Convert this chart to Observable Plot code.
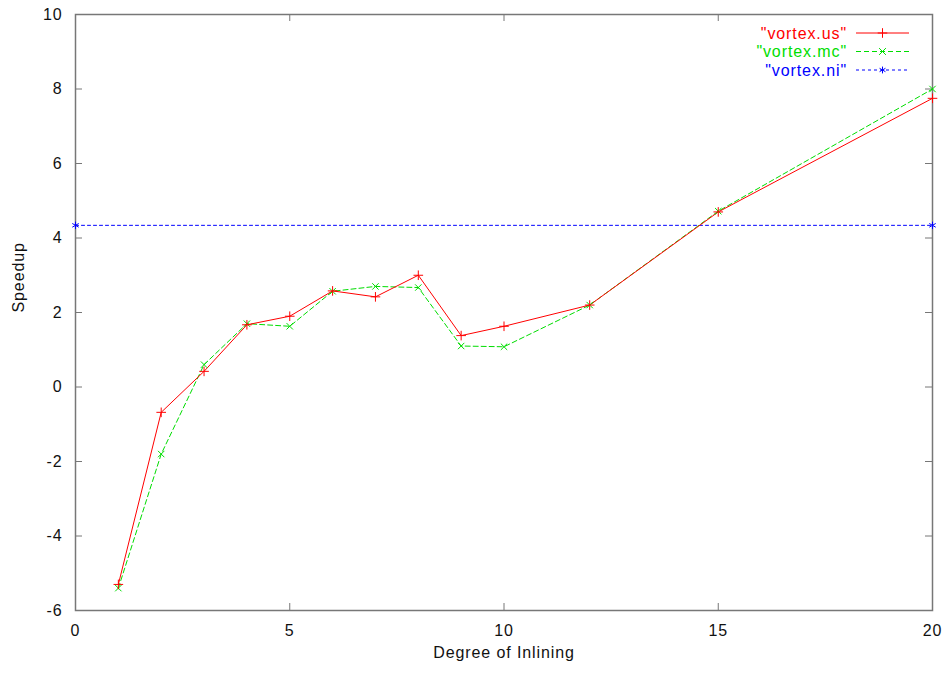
<!DOCTYPE html>
<html>
<head>
<meta charset="utf-8">
<script src="https://cdn.jsdelivr.net/npm/d3@7"></script>
<script src="https://cdn.jsdelivr.net/npm/@observablehq/plot@0.6"></script>
<style>
  html, body { margin: 0; padding: 0; background: white; }
  svg text { letter-spacing: 0.9px; }
</style>
</head>
<body>
<div id="chart"></div>
<script>
// ---- data ----
const degrees = [1, 2, 3, 4, 5, 6, 7, 8, 9, 10, 12, 15, 20];
const vortexUs = [-5.3, -0.68, 0.42, 1.67, 1.9, 2.58, 2.42, 3.0, 1.38, 1.63, 2.2, 4.7, 7.75];
const vortexMc = [-5.4, -1.8, 0.6, 1.7, 1.63, 2.57, 2.7, 2.67, 1.1, 1.08, 2.2, 4.72, 8.0];
const niDegrees = [0, 20];
const vortexNi = [4.34, 4.34];
const xTicks = [0, 5, 10, 15, 20];
const yTicks = [-6, -4, -2, 0, 2, 4, 6, 8, 10];
const seriesNames = ['"vortex.us"', '"vortex.mc"', '"vortex.ni"'];
const seriesColors = ["#ff0000", "#00dd00", "#0000ff"];
const seriesSymbols = ["plus", "times", "asterisk"];
const seriesDash = [null, "5,3", "3,3"];

// ---- build tables ----
const usData = degrees.map((d, i) => ({x: d, y: vortexUs[i]}));
const mcData = degrees.map((d, i) => ({x: d, y: vortexMc[i]}));
const niData = niDegrees.map((d, i) => ({x: d, y: vortexNi[i]}));

const W = 946, H = 674;
const mL = 75, mR = 14, mT = 14, mB = 64;
const plotW = W - mL - mR, plotH = H - mT - mB;
const frameColor = "#777";
const fmt = d => String(d);

const chart = Plot.plot({
  width: W,
  height: H,
  marginLeft: mL,
  marginRight: mR,
  marginTop: mT,
  marginBottom: mB,
  x: {domain: [0, 20]},
  y: {domain: [-6, 10]},
  style: {fontFamily: "'Liberation Sans', Arial, sans-serif", fontSize: "16px", background: "white", color: "#111"},
  marks: [
    // inward ticks (mirrored on all sides)
    Plot.ruleY(yTicks, {y: d => d, insetRight: plotW - 7, stroke: frameColor, strokeWidth: 1}),
    Plot.ruleY(yTicks, {y: d => d, insetLeft: plotW - 7, stroke: frameColor, strokeWidth: 1}),
    Plot.ruleX(xTicks, {x: d => d, insetTop: plotH - 7, stroke: frameColor, strokeWidth: 1}),
    Plot.ruleX(xTicks, {x: d => d, insetBottom: plotH - 7, stroke: frameColor, strokeWidth: 1}),
    Plot.axisY(yTicks, {tickSize: 0, tickPadding: 13, label: null, fontSize: 16, tickFormat: fmt}),
    Plot.axisX(xTicks, {tickSize: 0, tickPadding: 14, label: null, fontSize: 16, tickFormat: fmt}),
    Plot.frame({stroke: frameColor, strokeWidth: 1.5}),
    // series
    Plot.line(niData, {x: "x", y: "y", stroke: seriesColors[2], strokeWidth: 1, strokeDasharray: seriesDash[2]}),
    Plot.line(mcData, {x: "x", y: "y", stroke: seriesColors[1], strokeWidth: 1, strokeDasharray: seriesDash[1]}),
    Plot.line(usData, {x: "x", y: "y", stroke: seriesColors[0], strokeWidth: 1}),
    Plot.dot(niData, {x: "x", y: "y", symbol: seriesSymbols[2], r: 3.5, stroke: seriesColors[2], strokeWidth: 1}),
    Plot.dot(mcData, {x: "x", y: "y", symbol: seriesSymbols[1], r: 3, stroke: seriesColors[1], strokeWidth: 1}),
    Plot.dot(usData, {x: "x", y: "y", symbol: seriesSymbols[0], r: 3.2, stroke: seriesColors[0], strokeWidth: 1}),
    // axis titles
    Plot.text(["Speedup"], {text: d => d, frameAnchor: "left", dx: -57, rotate: -90, fontSize: 16, fill: "#111"}),
    Plot.text(["Degree of Inlining"], {text: d => d, frameAnchor: "bottom", dy: 47, fontSize: 16, fill: "#111"})
  ]
});

document.getElementById("chart").appendChild(chart);

// ---- legend (inside top-right, gnuplot style) ----
const svg = d3.select(chart);
const legend = svg.append("g").attr("font-family", "'Liberation Sans', Arial, sans-serif").attr("font-size", 16);
const textRight = 847, lineX1 = 856, lineX2 = 909, rowY0 = 33, rowStep = 18.5;
const legendSymbols = [d3.symbolPlus, d3.symbolTimes, d3.symbolAsterisk];
seriesNames.forEach((name, i) => {
  const y = rowY0 + i * rowStep;
  legend.append("text")
    .attr("x", textRight).attr("y", y)
    .attr("text-anchor", "end").attr("dominant-baseline", "central")
    .attr("fill", seriesColors[i])
    .text(name);
  legend.append("line")
    .attr("x1", lineX1).attr("x2", lineX2).attr("y1", y).attr("y2", y)
    .attr("stroke", seriesColors[i]).attr("stroke-width", 1)
    .attr("stroke-dasharray", seriesDash[i]);
  legend.append("path")
    .attr("transform", `translate(${(lineX1 + lineX2) / 2},${y})`)
    .attr("d", d3.symbol(legendSymbols[i], 3.2 * 3.2 * Math.PI)())
    .attr("fill", "none").attr("stroke", seriesColors[i]).attr("stroke-width", 1);
});
</script>
</body>
</html>
